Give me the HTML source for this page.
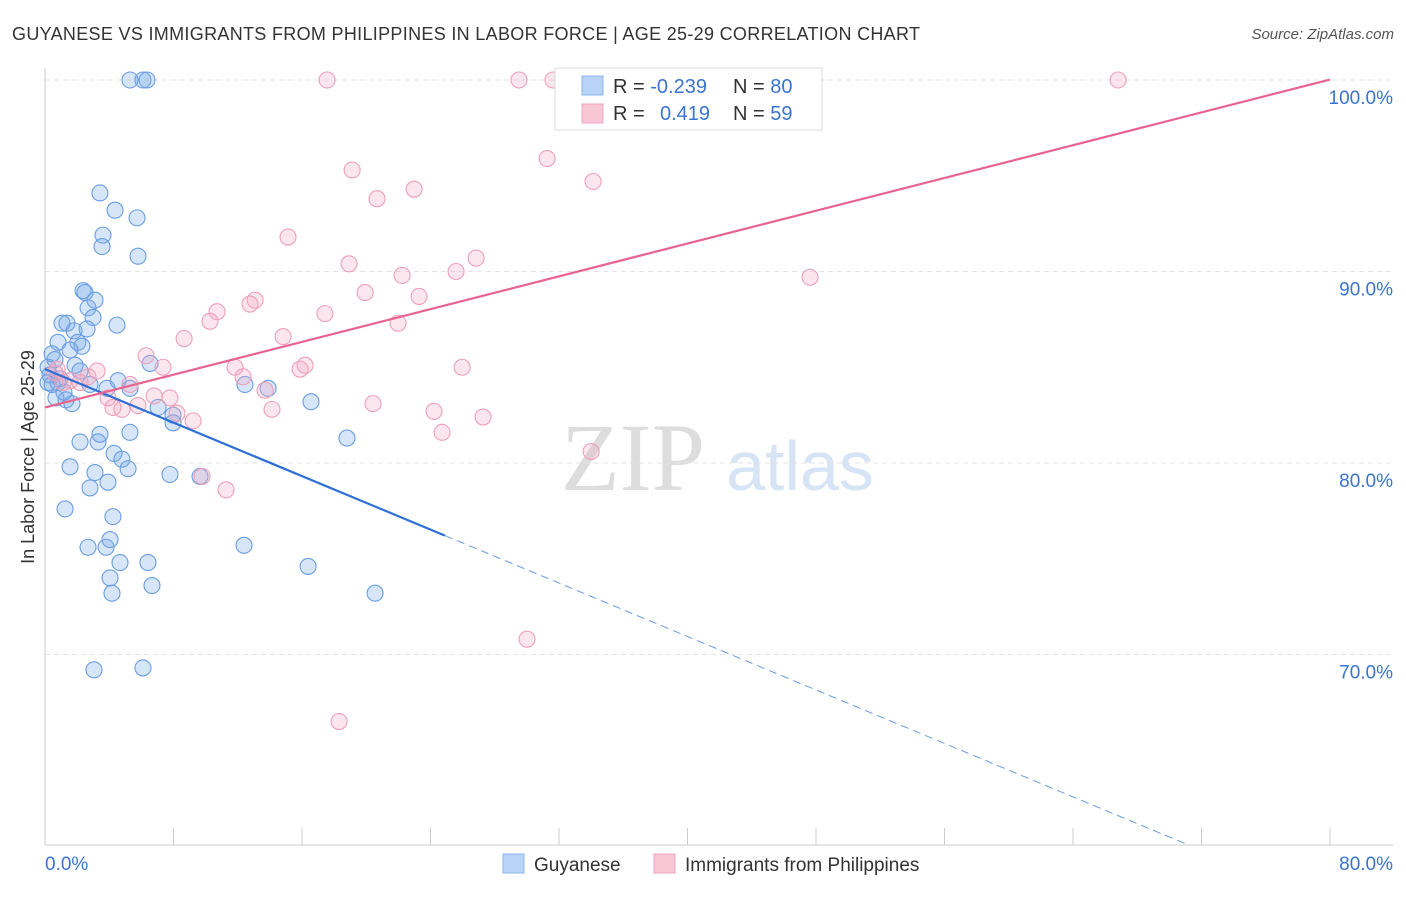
<!DOCTYPE html>
<html><head><meta charset="utf-8"><style>
body{margin:0;background:#fff;font-family:"Liberation Sans",sans-serif}
</style></head><body>
<svg id="c" width="1406" height="892" xmlns="http://www.w3.org/2000/svg">
<text x="12" y="40" font-size="18" fill="#333" textLength="908" lengthAdjust="spacing">GUYANESE VS IMMIGRANTS FROM PHILIPPINES IN LABOR FORCE | AGE 25-29 CORRELATION CHART</text>
<text x="1394" y="39" font-size="15" fill="#555" font-style="italic" text-anchor="end">Source: ZipAtlas.com</text>
<text x="633" y="490" font-size="96" fill="#ddd" font-family="Liberation Serif" text-anchor="middle">ZIP</text>
<text x="800" y="490" font-size="70" fill="#d7e4f5" text-anchor="middle">atlas</text>
<text transform="translate(34,457) rotate(-90)" font-size="18" fill="#333" text-anchor="middle">In Labor Force | Age 25-29</text>
<g id="grid"></g><g id="pts"></g><g id="lines"></g>
<g>
<rect x="555" y="68" width="267" height="62" fill="#fff" stroke="#ddd"/>
<rect x="582" y="76" width="21" height="19" fill="#b8d3f5" stroke="#8ab4ea"/>
<rect x="582" y="104" width="21" height="19" fill="#f9c6d5" stroke="#f0a5bd"/>
<text x="613" y="93" font-size="20" fill="#333">R = <tspan fill="#3a74d0">-0.239</tspan><tspan x="733">N = </tspan><tspan fill="#3a74d0">80</tspan></text>
<text x="613" y="120" font-size="20" fill="#333">R = <tspan x="660" fill="#3a74d0">0.419</tspan><tspan x="733">N = </tspan><tspan fill="#3a74d0">59</tspan></text>
</g>
<g>
<rect x="503" y="854" width="21" height="19" fill="#b8d3f5" stroke="#8ab4ea"/>
<text x="534" y="871" font-size="19" fill="#333">Guyanese</text>
<rect x="654" y="854" width="21" height="19" fill="#f9c6d5" stroke="#f0a5bd"/>
<text x="685" y="871" font-size="19" fill="#333">Immigrants from Philippines</text>
</g>
</svg>
<script>
const yTicks=[100,90,80,70];
const xTickVals=[0,10,20,30,40,50,60,70,80];
const xLabels=["0.0%","80.0%"];
const blueX=[5.29,6.10,6.35,3.42,4.36,5.73,3.61,3.55,5.79,2.37,2.49,3.11,2.68,2.99,1.06,1.37,4.48,1.81,2.62,0.81,2.05,2.30,1.56,0.44,0.62,1.87,6.54,0.19,0.31,2.18,4.55,0.81,2.80,5.29,12.45,13.89,0.68,1.31,1.68,7.04,7.97,7.97,16.56,2.18,3.42,3.30,5.29,4.30,4.79,5.17,1.56,3.11,7.78,9.65,2.80,3.92,1.25,4.23,18.80,2.68,3.80,4.67,6.41,12.39,4.05,6.66,4.17,16.38,20.55,3.05,6.10,0.19,0.44,0.93,1.18,4.05,3.86];
const blueY=[100,100,100,94.1,93.2,92.8,91.9,91.3,90.8,89.0,88.9,88.5,88.1,87.6,87.3,87.3,87.2,86.9,87.0,86.3,86.3,86.1,85.9,85.7,85.4,85.1,85.2,85.0,84.6,84.8,84.3,84.2,84.1,83.9,84.1,83.9,83.4,83.3,83.1,82.9,82.5,82.1,83.2,81.1,81.5,81.1,81.6,80.5,80.2,79.7,79.8,79.5,79.4,79.3,78.7,79.0,77.6,77.2,81.3,75.6,75.6,74.8,74.8,75.7,74.0,73.6,73.2,74.6,73.2,69.2,69.3,84.2,84.1,84.4,83.7,76.0,83.9];
const pinkX=[17.56,29.51,31.63,66.81,31.26,19.12,34.12,20.67,22.98,15.13,26.84,18.93,25.59,22.23,47.63,19.93,23.29,13.08,12.76,10.71,10.27,17.43,21.98,14.82,8.66,6.29,7.35,11.83,16.19,15.88,25.97,0.75,3.24,2.68,12.33,1.56,1.12,5.29,13.70,6.79,3.92,7.78,20.42,24.22,27.27,14.13,4.23,4.79,8.22,9.22,24.72,9.78,11.27,34.00,30.01,18.31,5.79,2.18,0.62];
const pinkY=[100,100,100,100,95.9,95.3,94.7,93.8,94.3,91.8,90.7,90.4,90.0,89.8,89.7,88.9,88.7,88.5,88.3,87.9,87.4,87.8,87.3,86.6,86.5,85.6,85.0,85.0,85.1,84.9,85.0,84.9,84.8,84.5,84.5,84.3,84.2,84.1,83.8,83.5,83.4,83.4,83.1,82.7,82.4,82.8,82.9,82.8,82.6,82.2,81.6,79.3,78.6,80.6,70.8,66.5,83.0,84.2,84.7];
const blueTrend=[84.9,-0.349];
const pinkTrend=[82.9,0.214];
const NS="http://www.w3.org/2000/svg";
const X=v=>45+v*16.0625, Y=v=>80+(100-v)*19.15;
function mk(t,a,p){const e=document.createElementNS(NS,t);for(const k in a)e.setAttribute(k,a[k]);p.appendChild(e);return e;}
const g=document.getElementById('grid');
yTicks.forEach(t=>{
 const l=mk('line',{x1:45,x2:1393,y1:Y(t),y2:Y(t),stroke:'#e3e3e3','stroke-dasharray':'5,4'},g);
 
 
 const tx=mk('text',{x:1393,y:Y(t)+24,'font-size':19,fill:'#3a74d0','text-anchor':'end'},g);
 tx.textContent=t.toFixed(1)+'%';
 
 
});
mk('line',{x1:45,x2:45,y1:68,y2:845,stroke:'#ccc'},g);
const ax=mk('line',{x1:45,x2:1393,y1:845,y2:845,stroke:'#ccc'},g);


for(let v=0;v<=80;v+=8){mk('line',{x1:X(v),x2:X(v),y1:828,y2:845,stroke:'#ccc'},g);}
[[0,'start'],[80,'end']].forEach((p,i)=>{
 const tx=mk('text',{x:i?1393:45,y:870,'font-size':19,fill:'#3a74d0','text-anchor':p[1]},g);
 tx.textContent=xLabels[i];
 
 
});
const P=document.getElementById('pts');
blueX.forEach((x,i)=>{
 const c=mk('circle',{cx:X(x),cy:Y(blueY[i]),r:8,fill:'rgba(120,168,232,0.3)',stroke:'#6a9ee2','stroke-width':1.1},P);
 
 
});
pinkX.forEach((x,i)=>{
 const c=mk('circle',{cx:X(x),cy:Y(pinkY[i]),r:8,fill:'rgba(245,165,192,0.28)',stroke:'#eda0b8','stroke-width':1.1},P);
 
 
});
const L=document.getElementById('lines');
const bf=x=>blueTrend[0]+blueTrend[1]*x, pf=x=>pinkTrend[0]+pinkTrend[1]*x;
let l1=mk('line',{x1:X(0),y1:Y(bf(0)),x2:X(24.9),y2:Y(bf(24.9)),stroke:'#2f6fd6','stroke-width':2.2},L);


const xe=(blueTrend[0]-60.05)/-blueTrend[1];
let l2=mk('line',{x1:X(24.9),y1:Y(bf(24.9)),x2:X(xe),y2:Y(bf(xe)),stroke:'#6a9be0','stroke-width':1,'stroke-dasharray':'8,5'},L);


let l3=mk('line',{x1:X(0),y1:Y(pf(0)),x2:X(80),y2:Y(pf(80)),stroke:'#e8648e','stroke-width':2.2},L);


</script>
</body></html>
